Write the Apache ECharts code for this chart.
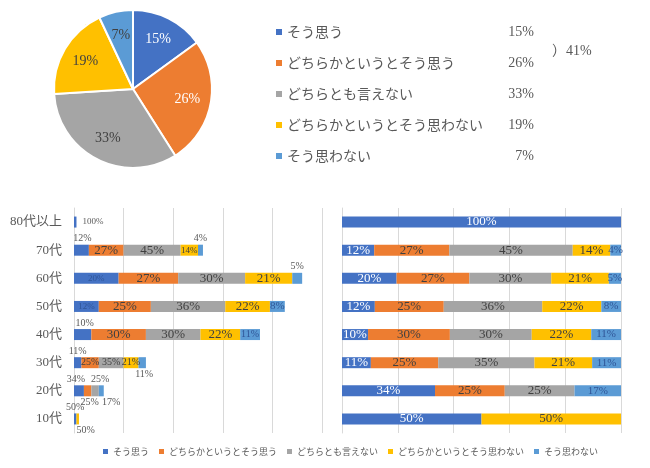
<!DOCTYPE html>
<html>
<head>
<meta charset="utf-8">
<script src="https://cdn.jsdelivr.net/npm/echarts@6/dist/echarts.min.js"></script>
<style>html,body{margin:0;padding:0;background:#fff}#c{width:650px;height:468px}</style>
</head>
<body>
<div id="c"></div>
<script>
// ---------- data ----------
const categories = ['80代以上', '70代', '60代', '50代', '40代', '30代', '20代', '10代'];
const seriesNames = ['そう思う', 'どちらかというとそう思う', 'どちらとも言えない', 'どちらかというとそう思わない', 'そう思わない'];
const pieValues = [15, 26, 33, 19, 7];
const positiveTotalText = '）41%';

// counts per answer, per age group (top to bottom)
const countSoOmou      = [1, 6, 18, 10, 7, 3, 4, 1];
const countDochiraSo   = [0, 14, 24, 21, 22, 7, 3, 0];
const countDochiraMo   = [0, 23, 27, 30, 22, 10, 3, 0];
const countDochiraNot  = [0, 7, 19, 18, 16, 6, 0, 1];
const countSoOmowanai  = [0, 2, 4, 6, 8, 3, 2, 0];

// percentage labels shown on the bars
const labelSoOmou     = ['100%', '12%', '20%', '12%', '10%', '11%', '34%', '50%'];
const labelDochiraSo  = ['', '27%', '27%', '25%', '30%', '25%', '25%', ''];
const labelDochiraMo  = ['', '45%', '30%', '36%', '30%', '35%', '25%', ''];
const labelDochiraNot = ['', '14%', '21%', '22%', '22%', '21%', '', '50%'];
const labelSoOmowanai = ['', '4%', '5%', '8%', '11%', '11%', '17%', ''];

// ---------- styles / layout ----------
const colors = ['#4472C4', '#ED7D31', '#A5A5A5', '#FFC000', '#5B9BD5'];
const SERIF = '"Liberation Serif", "Times New Roman", "Noto Sans CJK JP", serif';
const JP = '"Noto Sans CJK JP", sans-serif';
const counts = [countSoOmou, countDochiraSo, countDochiraMo, countDochiraNot, countSoOmowanai];
const labels = [labelSoOmou, labelDochiraSo, labelDochiraMo, labelDochiraNot, labelSoOmowanai];

// left chart label placement, font size and horizontal nudge
const leftPos = [
  ['right', 'top', 'inside', 'inside', 'top', 'top', 'top', 'top'],
  ['', 'inside', 'inside', 'inside', 'inside', 'inside', 'bottom', ''],
  ['', 'inside', 'inside', 'inside', 'inside', 'inside', 'top', ''],
  ['', 'inside', 'inside', 'inside', 'inside', 'inside', '', 'bottom'],
  ['', 'top', 'top', 'inside', 'inside', 'bottom', 'bottom', '']
];
const leftSize = [
  [9, 10, 9, 9, 10, 10, 10, 10],
  [0, 13, 13, 13, 13, 10, 10, 0],
  [0, 13, 13, 13, 13, 10, 10, 0],
  [0, 9, 13, 13, 13, 10, 0, 10],
  [0, 10, 10, 11, 10, 10, 10, 0]
];
const leftNudge = [
  [0, 1, 0, 0, 2, 0, -3, 0],
  [0, 0, 0, 0, 0, 0, 2, 0],
  [0, 0, 0, 0, 0, 0, 5, 0],
  [0, 0, 0, 0, 0, 0, 0, 8],
  [0, 0, 0, 0, 0, 2, 10, 0]
];
const insideColorLeft = ['#2F5597', '#404040', '#404040', '#404040', '#2F5597'];
const insideColorRight = ['#ffffff', '#404040', '#404040', '#404040', '#2F5597'];
const rightSize = [13, 13, 13, 13, 11];

const rowTotals = categories.map((_, i) => counts.reduce((s, arr) => s + arr[i], 0));

const series = [];
// pie
series.push({
  type: 'pie',
  center: [133, 89],
  radius: 79,
  startAngle: 90,
  clockwise: true,
  itemStyle: { borderColor: '#fff', borderWidth: 2 },
  label: {
    show: true, position: 'inside', fontFamily: SERIF, fontSize: 14,
    formatter: p => p.value + '%',
    color: '#404040'
  },
  labelLayout: function (p) {
    const r = p.labelRect, cx = 133, cy = 89, k = 1.3;
    const lx = r.x + r.width / 2, ly = r.y + r.height / 2;
    return { x: cx + (lx - cx) * k, y: cy + (ly - cy) * k, align: 'center', verticalAlign: 'middle' };
  },
  emphasis: { disabled: true },
  data: seriesNames.map((n, i) => ({
    name: n, value: pieValues[i],
    itemStyle: { color: colors[i] },
    label: { color: i < 2 ? '#ffffff' : '#404040' }
  }))
});

// left stacked (counts)
seriesNames.forEach((n, k) => {
  series.push({
    type: 'bar', name: n, stack: 'L', xAxisIndex: 0, yAxisIndex: 0,
    barWidth: 11, itemStyle: { color: colors[k] },
    emphasis: { disabled: true },
    data: counts[k].map((v, i) => {
      const pos = leftPos[k][i];
      const inside = pos === 'inside';
      return {
        value: v,
        label: {
          show: v > 0 && labels[k][i] !== '',
          position: pos || 'inside',
          distance: pos === 'right' ? 6 : 1,
          offset: [leftNudge[k][i], 0],
          formatter: labels[k][i],
          fontFamily: SERIF,
          fontSize: leftSize[k][i] || 10,
          color: inside ? insideColorLeft[k] : '#595959'
        }
      };
    })
  });
});

// right 100% stacked
seriesNames.forEach((n, k) => {
  series.push({
    type: 'bar', name: n, stack: 'R', xAxisIndex: 1, yAxisIndex: 1,
    barWidth: 11, itemStyle: { color: colors[k] },
    emphasis: { disabled: true },
    data: counts[k].map((v, i) => ({
      value: v / rowTotals[i] * 100,
      label: {
        show: v > 0 && labels[k][i] !== '',
        position: 'inside',
        formatter: labels[k][i],
        fontFamily: SERIF,
        fontSize: rightSize[k],
        color: insideColorRight[k]
      }
    }))
  });
});

const gridLine = { show: true, lineStyle: { color: '#d9d9d9', width: 1 } };

const option = {
  animation: false,
  backgroundColor: '#fff',
  title: {
    text: positiveTotalText, left: 547, top: 39,
    textStyle: { fontFamily: SERIF, fontSize: 14, fontWeight: 'normal', color: '#595959' }
  },
  legend: [
    {
      orient: 'vertical', left: 276, top: 24, padding: 0,
      icon: 'rect', itemWidth: 6, itemHeight: 6, itemGap: 15,
      selectedMode: false,
      data: seriesNames,
      formatter: name => {
        const i = seriesNames.indexOf(name);
        return '{n|' + name + '}{v|' + pieValues[i] + '%}';
      },
      textStyle: {
        rich: {
          n: { fontFamily: JP, fontSize: 14, color: '#595959', width: 200, height: 16, lineHeight: 16 },
          v: { fontFamily: SERIF, fontSize: 14, color: '#595959', width: 47, align: 'right', height: 16, lineHeight: 16 }
        }
      }
    },
    {
      orient: 'horizontal', left: 103, top: 447, padding: 0,
      icon: 'rect', itemWidth: 5, itemHeight: 5, itemGap: 10,
      selectedMode: false,
      data: seriesNames,
      textStyle: { fontFamily: JP, fontSize: 9, color: '#595959' }
    }
  ],
  grid: [
    { left: 74, right: 328, top: 208, bottom: 35 },
    { left: 342, right: 29, top: 208, bottom: 35 }
  ],
  xAxis: [
    { type: 'value', gridIndex: 0, min: 0, max: 100, interval: 20,
      axisLabel: { show: false }, axisLine: { show: false }, axisTick: { show: false }, splitLine: gridLine },
    { type: 'value', gridIndex: 1, min: 0, max: 100, interval: 20,
      axisLabel: { show: false }, axisLine: { show: false }, axisTick: { show: false }, splitLine: gridLine }
  ],
  yAxis: [
    { type: 'category', gridIndex: 0, data: categories, inverse: true,
      axisTick: { show: false },
      axisLine: { show: true, lineStyle: { color: '#d9d9d9' } },
      axisLabel: { fontFamily: SERIF, fontSize: 13, color: '#595959', margin: 12 } },
    { type: 'category', gridIndex: 1, data: categories, inverse: true,
      axisTick: { show: false },
      axisLine: { show: true, lineStyle: { color: '#d9d9d9' } },
      axisLabel: { show: false } }
  ],
  series: series
};

const chart = echarts.init(document.getElementById('c'), null, { renderer: 'canvas' });
chart.setOption(option);
</script>
</body>
</html>
